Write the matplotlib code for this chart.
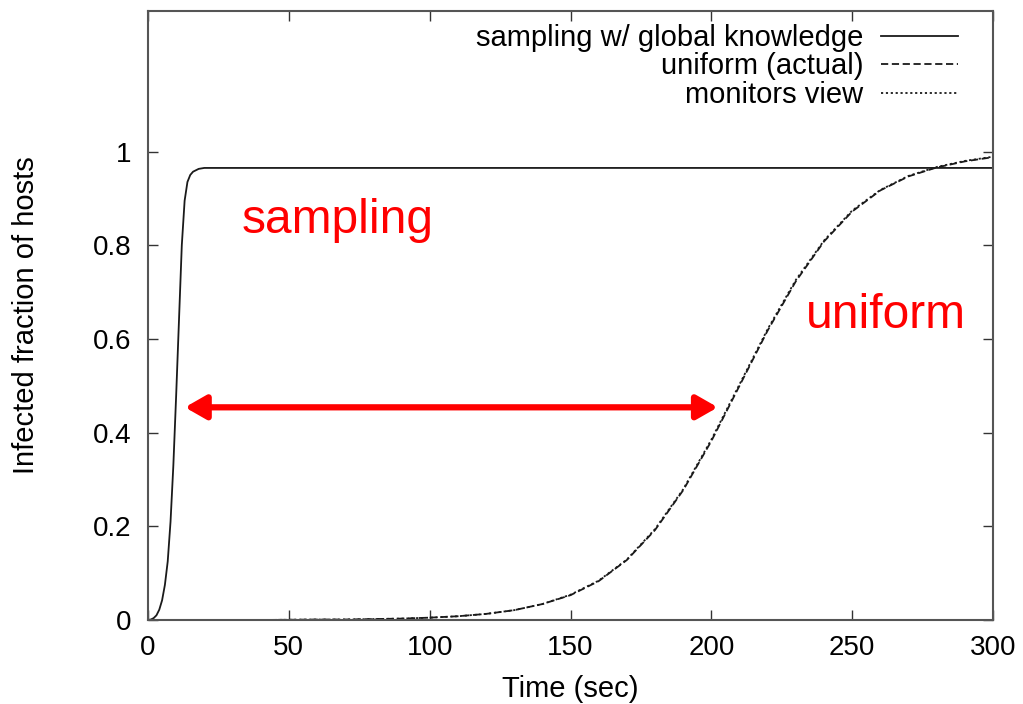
import matplotlib
matplotlib.use("Agg")
import matplotlib.pyplot as plt
from matplotlib.patches import FancyArrowPatch

plt.rcParams['font.family'] = ['Liberation Sans', 'DejaVu Sans']

# --- data ---
sampling_t = [0, 1, 2, 3, 4, 5, 6, 7, 8, 9, 10, 11, 12, 13, 14, 15, 16, 18, 20, 100, 300]
sampling_y = [0.0, 0.001, 0.004, 0.01, 0.022, 0.042, 0.075, 0.125, 0.21, 0.33, 0.48,
              0.64, 0.80, 0.895, 0.935, 0.95, 0.957, 0.963, 0.965, 0.965, 0.965]

uniform_t = [0, 10, 20, 30, 40, 50, 60, 70, 80, 90, 100, 110, 120, 130, 140, 150,
             160, 170, 180, 190, 200, 210, 220, 230, 240, 250, 260, 270, 280, 290, 300]
uniform_actual = [0.0, 0.0, 0.0, 0.0, 0.0, 0.0005, 0.001, 0.001, 0.002, 0.003, 0.005,
                  0.008, 0.013, 0.021, 0.034, 0.053, 0.083, 0.128, 0.192, 0.277, 0.382,
                  0.500, 0.618, 0.723, 0.808, 0.872, 0.917, 0.947, 0.966, 0.979, 0.988]
monitors_view = [0.0, 0.0, 0.0, 0.0, 0.0, 0.0005, 0.001, 0.001, 0.002, 0.003, 0.005,
                 0.008, 0.013, 0.021, 0.034, 0.054, 0.084, 0.129, 0.194, 0.279, 0.385,
                 0.503, 0.621, 0.726, 0.810, 0.874, 0.918, 0.948, 0.967, 0.980, 0.989]

legend_labels = ["sampling w/ global knowledge", "uniform (actual)", "monitors view"]
x_ticks = [0, 50, 100, 150, 200, 250, 300]
y_ticks = [0, 0.2, 0.4, 0.6, 0.8, 1]
y_tick_labels = ["0", "0.2", "0.4", "0.6", "0.8", "1"]

# --- figure ---
fig = plt.figure(figsize=(10.23, 7.04), dpi=100)
ax = fig.add_axes([148/1023, 1-620/704, 845/1023, 609/704])

lc = '#1a1a1a'
ax.plot(sampling_t, sampling_y, color=lc, lw=1.3, ls='-', label=legend_labels[0])
ax.plot(uniform_t, uniform_actual, color=lc, lw=1.3, ls=(0, (4, 2)), label=legend_labels[1])
ax.plot(uniform_t, monitors_view, color=lc, lw=1.3, ls=(0, (1.2, 1.5)), label=legend_labels[2])

ax.set_xlim(0, 300)
ax.set_ylim(0, 1.3)
ax.set_xticks(x_ticks)
ax.set_yticks(y_ticks)
ax.set_yticklabels(y_tick_labels)
ax.tick_params(direction='in', length=7, width=1, colors='#333333',
               top=True, right=True, labelsize=20, labelcolor='black')
ax.tick_params(axis='y', pad=12)
ax.tick_params(axis='x', pad=11)
for s in ax.spines.values():
    s.set_color('#555555')
    s.set_linewidth(1.5)

ax.set_xlabel("Time (sec)", fontsize=21)
ax.xaxis.set_label_coords(0.5, -0.091)
ax.set_ylabel("Infected fraction of hosts", fontsize=21)
ax.yaxis.set_label_coords(-0.128, 0.5)

leg = ax.legend(loc='upper right', bbox_to_anchor=(0.9586, 0.979), frameon=False,
                markerfirst=False, fontsize=21, handlelength=2.65, handletextpad=0.6,
                labelspacing=0.02, borderpad=0, borderaxespad=0)

ax.text(33.4, 0.853, "sampling", color='red', fontsize=34.5, va='center', ha='left')
ax.text(233.6, 0.65, "uniform", color='red', fontsize=34.5, va='center', ha='left')

arrow = FancyArrowPatch((13.1, 0.454), (202.3, 0.454),
                        arrowstyle='<|-|>,head_length=0.42,head_width=0.24',
                        mutation_scale=30, color='red', lw=4.5, shrinkA=0, shrinkB=0)
ax.add_patch(arrow)

fig.savefig("out.png", dpi=100)
